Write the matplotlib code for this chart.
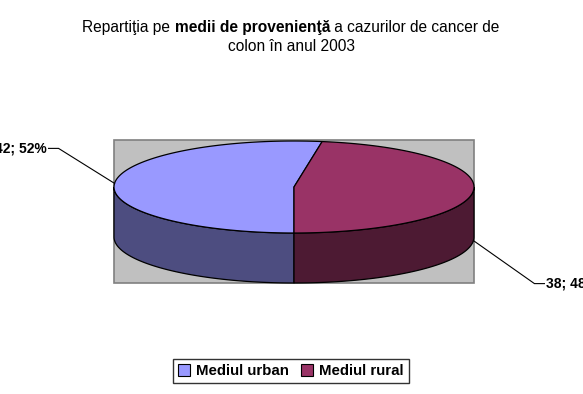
import numpy as np
import matplotlib
matplotlib.use("Agg")
import matplotlib.pyplot as plt
from matplotlib.patches import Polygon, Rectangle, Patch

# ---- data ----
categories = ["Mediul urban", "Mediul rural"]
values = [42, 38]
title_line1 = [("Repartiţia pe ", "normal"), ("medii de provenienţă", "bold"),
               (" a cazurilor de cancer de", "normal")]
title_line2 = [("colon în anul 2003", "normal")]

# ---- style ----
top_colors = ["#9999FF", "#993366"]
side_colors = ["#4D4D80", "#4D1A33"]
label_offsets = [(-56, -35), (61, 43)]   # leader line direction (px)

plt.rcParams["font.family"] = ["Liberation Sans", "DejaVu Sans"]

W, H = 583, 394
fig = plt.figure(figsize=(W / 100, H / 100), dpi=100)
ax = fig.add_axes([0, 0, 1, 1])
ax.set_xlim(0, W)
ax.set_ylim(H, 0)
ax.axis("off")

# plot area
area_x0, area_y0, area_w, area_h = 114, 140, 360, 143
ax.add_patch(Rectangle((area_x0, area_y0), area_w, area_h, fc="#C0C0C0",
                       ec="#808080", lw=1.2, zorder=1))

cx, cy, rx, ry, depth = 294, 187, 180, 46, 50


def pt(a, dy=0.0):
    r = np.deg2rad(a)
    return cx + rx * np.cos(r), cy - ry * np.sin(r) + dy


total = sum(values)
start = 270.0
spans = []
for v in values:
    sweep = 360.0 * v / total
    spans.append((start - sweep, start))  # clockwise from start
    start -= sweep

# sides
for (a0, a1), col in zip(spans, side_colors):
    for lo, hi in [(180, 360), (-180, 0), (540, 720)]:
        s, e = max(a0, lo), min(a1, hi)
        if e > s:
            angs = np.linspace(s, e, 100)
            topp = [pt(a) for a in angs]
            botp = [pt(a, depth) for a in angs[::-1]]
            ax.add_patch(Polygon(topp + botp, closed=True, fc=col, ec="black",
                                 lw=0.9, zorder=2))

# tops
for (a0, a1), col in zip(spans, top_colors):
    angs = np.linspace(a0, a1, 200)
    poly = [(cx, cy)] + [pt(a) for a in angs]
    ax.add_patch(Polygon(poly, closed=True, fc=col, ec="black", lw=0.9,
                         zorder=3, joinstyle="round"))

# data labels with leader lines
for (a0, a1), v, (ox, oy) in zip(spans, values, label_offsets):
    mid = (a0 + a1) / 2
    front = np.sin(np.deg2rad(mid)) < 0
    x0, y0 = pt(mid, depth if front else 0)
    x1, y1 = x0 + ox, y0 + oy
    sgn = 1 if ox > 0 else -1
    x2 = x1 + sgn * 10
    ax.plot([x0, x1, x2], [y0, y1, y1], color="black", lw=0.8, zorder=4,
            solid_joinstyle="miter")
    pct = round(100 * v / total)
    ax.text(x2 + sgn * 2, y1, f"{v}; {pct}%", ha="left" if sgn > 0 else "right",
            va="center", fontsize=10, fontweight="bold", zorder=5)

# title with mixed weights, centred
fig.canvas.draw()
renderer = fig.canvas.get_renderer()
title_cx = 291
for line, ty in [(title_line1, 27), (title_line2, 46)]:
    texts = []
    for s, w in line:
        t = ax.text(0, ty, s, fontsize=11.2, fontweight=w, ha="left",
                    va="center")
        texts.append(t)
    widths = []
    for t in texts:
        bb = t.get_window_extent(renderer)
        widths.append(bb.width)
    x = title_cx - sum(widths) / 2
    for t, wdt in zip(texts, widths):
        t.set_x(x)
        x += wdt

# legend
handles = [Patch(fc=c, ec="black", lw=0.8) for c in top_colors]
leg = fig.legend(handles, categories, loc="center",
                 bbox_to_anchor=(291 / W, 1 - 371 / H),
                 bbox_transform=fig.transFigure, ncol=2, frameon=True,
                 fancybox=False, prop={"weight": "bold", "size": 10.8},
                 handlelength=0.8, handleheight=0.8, handletextpad=0.4,
                 columnspacing=0.8, borderpad=0.35, borderaxespad=0)
leg.get_frame().set_edgecolor("black")
leg.get_frame().set_linewidth(1.0)

fig.savefig("out.png", dpi=100)
